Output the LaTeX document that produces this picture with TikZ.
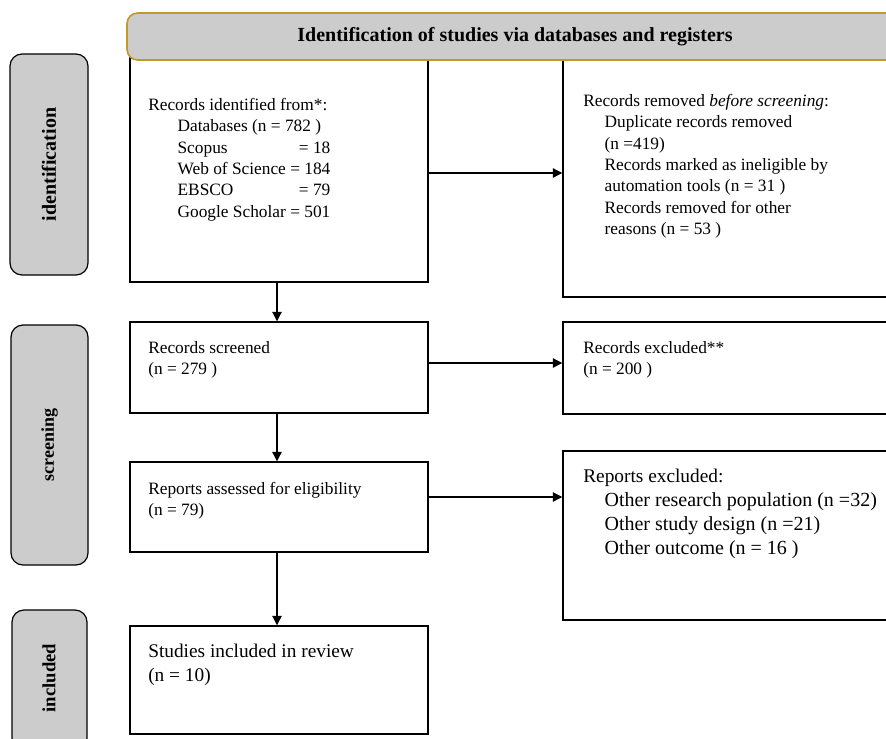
\documentclass[tikz,border=0pt]{standalone}
\usepackage{fontspec}
\setmainfont{Liberation Serif}
\usetikzlibrary{arrows.meta,fit}
\definecolor{boxgray}{RGB}{204,204,204}
\definecolor{goldline}{RGB}{196,152,40}
\newlength{\dbw}
\begin{document}
\sbox0{\fontsize{13}{16}\selectfont Web of Science = 184}\setlength{\dbw}{\wd0}%
\begin{tikzpicture}[x=0.75pt,y=-0.75pt,
  mainbox/.style={draw=black, line width=1.1pt, rectangle, inner sep=0pt},
  phasebox/.style={draw=black, fill=boxgray, line width=0.9pt, rounded corners=9pt, inner sep=0pt},
  arr/.style={-{Triangle[length=7pt,width=7pt]}, line width=0.9pt},
  txt/.style={anchor=north west, align=left, inner sep=0pt, font=\fontsize{13}{16}\selectfont},
  bigtxt/.style={txt, font=\fontsize{14.5}{18}\selectfont},
  lab/.style={rotate=90, inner sep=0pt, font=\bfseries\fontsize{14}{16}\selectfont}
]
\useasboundingbox (0,0) rectangle (886,739);
\clip (0,0) rectangle (886,739);

% phase boxes
\node[phasebox, fit={(10,54) (88,275)}] (pid) {};
\node[phasebox, fit={(11,325) (88,565)}] (pscr) {};
\node[phasebox, fit={(12,610) (87,750)}] (pinc) {};
\node[lab, font=\bfseries\fontsize{15}{17}\selectfont] (lid) at (pid.center) {identification};
\node[lab, font=\bfseries\fontsize{13.5}{15}\selectfont] (lscr) at (pscr.center) {screening};
\node[lab] (linc) at (49,678) {included};

% main boxes
\node[mainbox, fit={(130,58) (428,282)}] (id) {};
\node[mainbox, fit={(563,58) (893,297)}] (rem) {};
\node[mainbox, fit={(130,322) (428,413)}] (scr) {};
\node[mainbox, fit={(563,322) (893,414)}] (exc) {};
\node[mainbox, fit={(130,462) (428,552)}] (ass) {};
\node[mainbox, fit={(563,451) (893,620)}] (rex) {};
\node[mainbox, fit={(130,626) (428,734)}] (inc) {};

% header
\node[draw=goldline, fill=boxgray, line width=1.2pt, rounded corners=8pt, inner sep=0pt, fit={(127,13) (905,60)}] (hdr) {};
\node[inner sep=0pt, font=\bfseries\fontsize{15}{17}\selectfont] (hdrt) at (515,37) {Identification of studies via databases and registers};

% texts
\node[txt] (tid) at (148,98) {Records identified from*:\\
\hspace*{22pt}Databases (n = 782 )\\
\hspace*{22pt}\makebox[\dbw][l]{Scopus\hfill= 18}\\
\hspace*{22pt}Web of Science = 184\\
\hspace*{22pt}\makebox[\dbw][l]{EBSCO\hfill= 79}\\
\hspace*{22pt}\makebox[\dbw][l]{Google Scholar\hfill= 501}};

\node[txt] (trem) at (583,94) {Records removed \emph{before screening}:\\
\hspace*{16pt}Duplicate records removed\\
\hspace*{16pt}(n =419)\\
\hspace*{16pt}Records marked as ineligible by\\
\hspace*{16pt}automation tools (n = 31 )\\
\hspace*{16pt}Records removed for other\\
\hspace*{16pt}reasons (n = 53 )};

\node[txt] (tscr) at (148,341) {Records screened\\(n = 279 )};
\node[txt] (texc) at (583,341) {Records excluded**\\(n = 200 )};
\node[txt] (tass) at (148,482) {Reports assessed for eligibility\\(n = 79)};
\node[bigtxt] (trex) at (583,469) {Reports excluded:\\
\hspace*{16pt}{\fontsize{15}{18}\selectfont Other research population (n =32)}\\
\hspace*{16pt}{\fontsize{15}{18}\selectfont Other study design (n =21)}\\
\hspace*{16pt}{\fontsize{15}{18}\selectfont Other outcome (n = 16 )}};
\node[bigtxt] (tinc) at (148,644) {Studies included in review\\(n = 10)};

% connectors
\coordinate (y1) at (0,173);
\coordinate (y2) at (0,363);
\coordinate (y3) at (0,497);
\coordinate (xv) at (277,0);
\draw[arr] (id.east |- y1) -- (rem.west |- y1);
\draw[arr] (scr.east |- y2) -- (exc.west |- y2);
\draw[arr] (ass.east |- y3) -- (rex.west |- y3);
\draw[arr] (xv |- id.south) -- (xv |- scr.north);
\draw[arr] (xv |- scr.south) -- (xv |- ass.north);
\draw[arr] (xv |- ass.south) -- (xv |- inc.north);
\end{tikzpicture}
\end{document}
